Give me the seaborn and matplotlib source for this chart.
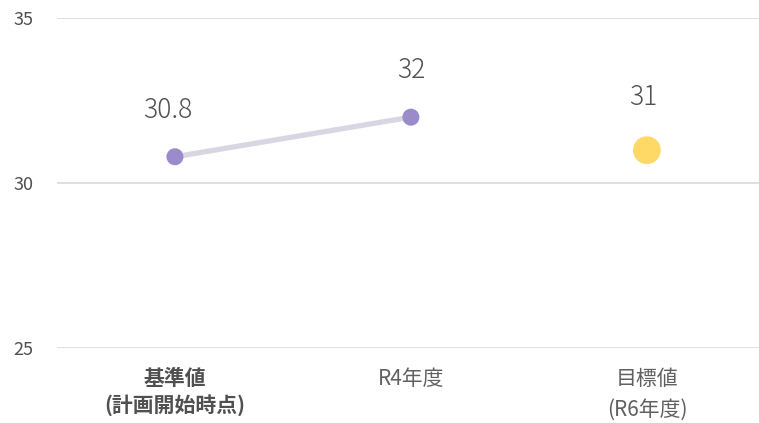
import numpy as np
import pandas as pd
import matplotlib
matplotlib.use("Agg")
import matplotlib.pyplot as plt
import seaborn as sns

# data
categories = ["基準値\n(計画開始時点)", "R4年度", "目標値\n(R6年度)"]
actual_values = [30.8, 32]
target_value = 31
y_ticks = [25, 30, 35]

sns.set_theme(style="white")
plt.rcParams['font.family'] = ['Noto Sans CJK JP', 'DejaVu Sans']

pos = np.arange(len(categories))
actual = pd.DataFrame({"pos": pos[:len(actual_values)], "value": actual_values})
target = pd.DataFrame({"pos": [pos[-1]], "value": [target_value]})

fig = plt.figure(figsize=(7.59, 4.23), dpi=100)
ax = fig.add_axes([0.075, 0.177, 0.925, 0.780])

# gridlines
for t in y_ticks:
    ax.axhline(t, color="#D9D9D9", linewidth=1.2, zorder=0)

sns.lineplot(data=actual, x="pos", y="value", ax=ax, color="#D9D6E3",
             linewidth=3.8, zorder=2)
sns.scatterplot(data=actual, x="pos", y="value", ax=ax, color="#9B8BCB",
                s=150, edgecolor="none", zorder=3)
sns.scatterplot(data=target, x="pos", y="value", ax=ax, color="#FFD966",
                s=400, edgecolor="none", zorder=3)

# data labels (Excel puts them slightly left of the marker)
label_dx = [-5, 0]
for x, v, dx in zip(actual["pos"], actual["value"], label_dx):
    ax.annotate(f"{v:g}", (x, v), xytext=(dx, 34), textcoords="offset points",
                ha="center", va="center", fontsize=19, fontweight="light",
                color="#505050")
ax.annotate(f"{target_value:g}", (pos[-1], target_value), xytext=(-3, 38),
            textcoords="offset points", ha="center", va="center",
            fontsize=19, fontweight="light", color="#505050")

ax.set_xlim(-0.5, 2.475)
ax.set_ylim(25, 35)
ax.set_yticks(y_ticks)
ax.set_xticks(pos)
ax.set_xticklabels(categories)
ax.set_xlabel("")
ax.set_ylabel("")
ax.tick_params(axis="y", length=0, pad=17, labelsize=13, labelcolor="#505050")
ax.tick_params(axis="x", length=0, pad=14, labelsize=15)

labels = ax.get_xticklabels()
labels[0].set_fontweight("bold")
labels[0].set_color("#505050")
labels[0].set_linespacing(1.3)
labels[1].set_color("#606060")
labels[2].set_color("#606060")
labels[2].set_linespacing(1.55)

for sp in ax.spines.values():
    sp.set_visible(False)

fig.savefig("out.png", dpi=100)
